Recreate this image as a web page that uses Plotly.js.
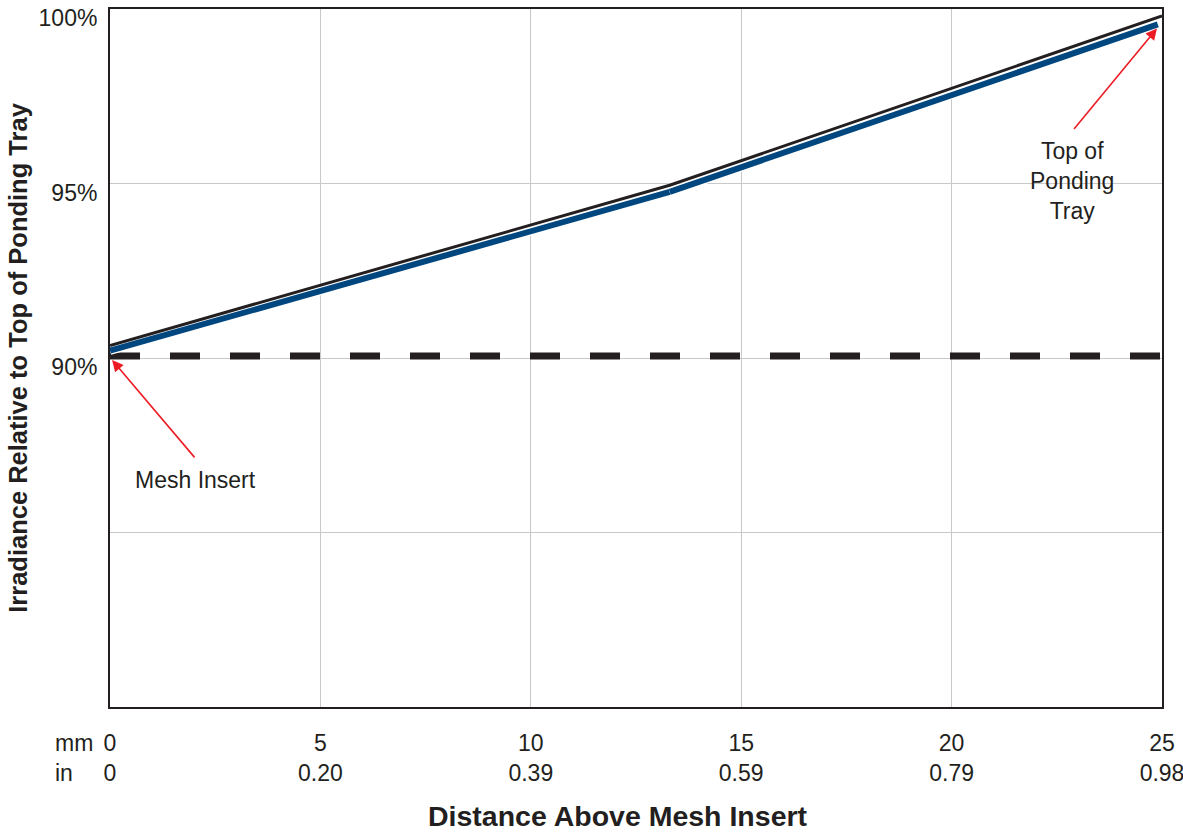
<!DOCTYPE html>
<html>
<head>
<meta charset="utf-8">
<script src="https://cdn.plot.ly/plotly-3.0.1.min.js"></script>
<style>html,body{margin:0;padding:0;background:#fff;}#chart{width:1183px;height:832px;}</style>
</head>
<body>
<div id="chart"></div>
<script>
// Data
var mmTicks = [0, 5, 10, 15, 20, 25];
var inchLabels = ['0', '0.20', '0.39', '0.59', '0.79', '0.98'];
var yTicks = [80, 85, 90, 95, 100];
var yTickLabels = ['', '', '90%', '95%', '100%'];

var blackX = [0, 13.3, 25];
var blackY = [90.36, 94.95, 99.8];
var blueX1 = [0, 13.3];
var blueY1 = [90.21, 94.76];
var blueX2 = [13.3, 24.9];
var blueY2 = [94.76, 99.56];
var meshLevelX = [0, 25];
var meshLevelY = [90.06, 90.06];

var FONT = 'Liberation Sans, Arial, sans-serif';
var TXT = '#231f20';
var BLUE = '#00467f';

var traces = [
  {x: meshLevelX, y: meshLevelY, mode: 'lines', line: {color: TXT, width: 7, dash: '30px,30px'}, hoverinfo: 'skip'},
  {x: blueX1, y: blueY1, mode: 'lines', line: {color: '#ffffff', width: 8.5}, hoverinfo: 'skip'},
  {x: blueX1, y: blueY1, mode: 'lines', line: {color: BLUE, width: 6}, hoverinfo: 'skip'},
  {x: blueX2, y: blueY2, mode: 'lines', line: {color: '#ffffff', width: 8.5}, hoverinfo: 'skip'},
  {x: blueX2, y: blueY2, mode: 'lines', line: {color: BLUE, width: 6}, hoverinfo: 'skip'},
  {x: blackX, y: blackY, mode: 'lines', line: {color: TXT, width: 3}, hoverinfo: 'skip'}
];

var xTickText = mmTicks.map(function (v, i) { return String(v) + '<br>' + inchLabels[i]; });

var layout = {
  width: 1183, height: 832,
  margin: {l: 110, r: 21, t: 9, b: 125},
  paper_bgcolor: '#ffffff', plot_bgcolor: '#ffffff',
  showlegend: false,
  font: {family: FONT, color: TXT, size: 23},
  xaxis: {
    range: [0, 25], tickvals: mmTicks, ticktext: xTickText,
    showgrid: true, gridcolor: '#c8c8c8', gridwidth: 1,
    showline: true, linecolor: TXT, linewidth: 2, mirror: true,
    ticks: '', zeroline: false, ticklabelstandoff: 14, ticklabeloverflow: 'allow',
    tickfont: {family: FONT, size: 23, color: TXT}
  },
  yaxis: {
    range: [80, 100], tickvals: yTicks, ticktext: yTickLabels,
    showgrid: true, gridcolor: '#c8c8c8', gridwidth: 1,
    showline: true, linecolor: TXT, linewidth: 2, mirror: true,
    ticks: '', zeroline: false, ticklabelshift: 9, ticklabelstandoff: 6, ticklabeloverflow: 'allow',
    tickfont: {family: FONT, size: 23, color: TXT},
    title: {text: '<b>Irradiance Relative to Top of Ponding Tray</b>', font: {family: FONT, size: 25.5, color: TXT}, standoff: 4}
  },
  annotations: [
    {xref: 'paper', yref: 'paper', x: 0.483, y: -0.156, xanchor: 'center', yanchor: 'middle', text: '<b>Distance Above Mesh Insert</b>', showarrow: false, font: {family: FONT, size: 28.5, color: TXT}},
    {xref: 'paper', yref: 'paper', x: -0.0542, y: -0.0516, xanchor: 'left', yanchor: 'middle', text: 'mm', showarrow: false, font: {family: FONT, size: 23, color: TXT}},
    {xref: 'paper', yref: 'paper', x: -0.0542, y: -0.0946, xanchor: 'left', yanchor: 'middle', text: 'in', showarrow: false, font: {family: FONT, size: 23, color: TXT}},
    {x: 2.02, y: 86.51, text: 'Mesh Insert', showarrow: false, xanchor: 'center', yanchor: 'middle', font: {family: FONT, size: 23, color: TXT}},
    {x: 0.05, y: 89.94, ax: 2.04, ay: 87.11, axref: 'x', ayref: 'y', text: '', showarrow: true, arrowhead: 2, arrowsize: 1.4, arrowwidth: 1.6, arrowcolor: '#ed1c24'},
    {x: 22.86, y: 95.07, text: 'Top of<br>Ponding<br>Tray', showarrow: false, xanchor: 'center', yanchor: 'middle', font: {family: FONT, size: 23, color: TXT}},
    {x: 24.88, y: 99.44, ax: 22.88, ay: 96.52, axref: 'x', ayref: 'y', text: '', showarrow: true, arrowhead: 2, arrowsize: 1.4, arrowwidth: 1.6, arrowcolor: '#ed1c24'}
  ]
};

Plotly.newPlot('chart', traces, layout, {displayModeBar: false, staticPlot: true});
</script>
</body>
</html>
